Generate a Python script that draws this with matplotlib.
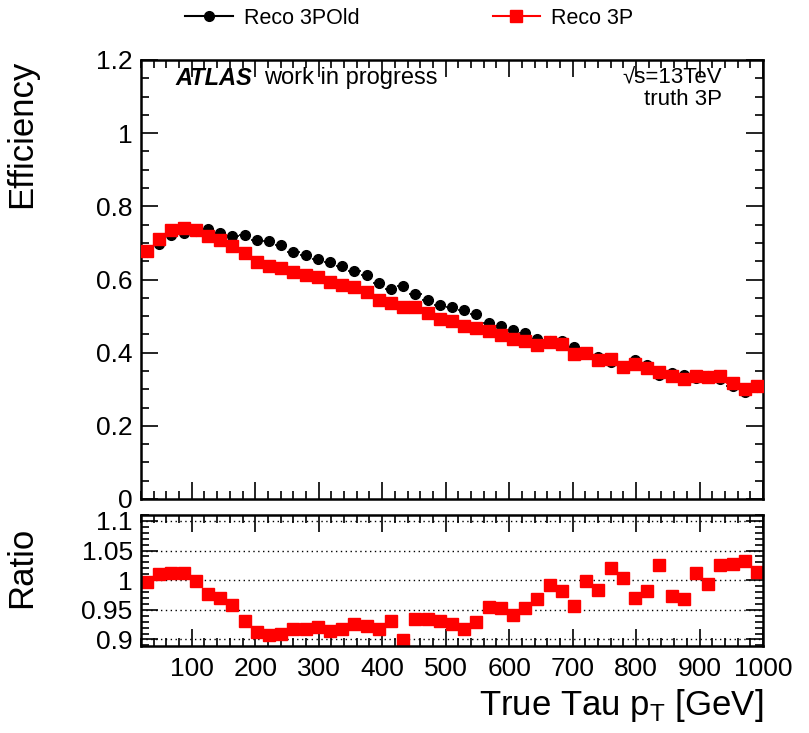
import matplotlib
matplotlib.use("Agg")
import matplotlib.pyplot as plt
from matplotlib.lines import Line2D
from matplotlib.ticker import MultipleLocator
import numpy as np

plt.rcParams['font.family'] = ['Liberation Sans', 'DejaVu Sans']

# 51 bins of true tau pT between 20 and 1000 GeV
edges = np.linspace(20, 1000, 52)
pt = 0.5 * (edges[1:] + edges[:-1])
half_width = 0.5 * (edges[1:] - edges[:-1])

eff_3p_old = [0.675, 0.696, 0.721, 0.726, 0.732, 0.737, 0.728, 0.720, 0.721, 0.709,
              0.704, 0.695, 0.676, 0.668, 0.657, 0.648, 0.637, 0.624, 0.613, 0.591,
              0.575, 0.582, 0.561, 0.545, 0.529, 0.525, 0.516, 0.505, 0.482, 0.472,
              0.463, 0.453, 0.436, 0.431, 0.432, 0.416, 0.400, 0.388, 0.375, 0.360,
              0.381, 0.365, 0.339, 0.344, 0.340, 0.331, 0.335, 0.328, 0.308, 0.293,
              0.306]
eff_3p = [0.679, 0.712, 0.735, 0.740, 0.735, 0.719, 0.707, 0.691, 0.673, 0.649,
          0.637, 0.631, 0.620, 0.612, 0.606, 0.593, 0.585, 0.580, 0.565, 0.543,
          0.536, 0.524, 0.524, 0.509, 0.492, 0.486, 0.472, 0.468, 0.458, 0.449,
          0.437, 0.431, 0.422, 0.428, 0.424, 0.397, 0.399, 0.381, 0.383, 0.361,
          0.370, 0.358, 0.348, 0.335, 0.329, 0.335, 0.333, 0.337, 0.317, 0.302,
          0.310]
ratio = [0.997, 1.011, 1.012, 1.012, 0.998, 0.976, 0.970, 0.958, 0.932, 0.913,
         0.908, 0.909, 0.917, 0.917, 0.921, 0.915, 0.917, 0.926, 0.923, 0.917,
         0.932, 0.899, 0.934, 0.934, 0.932, 0.926, 0.918, 0.930, 0.955, 0.953,
         0.942, 0.953, 0.968, 0.992, 0.982, 0.957, 0.998, 0.983, 1.021, 1.003,
         0.970, 0.981, 1.026, 0.974, 0.968, 1.012, 0.993, 1.026, 1.028, 1.032,
         1.013]

RED = '#ff0000'

W, H = 809, 733
fig = plt.figure(figsize=(W / 100, H / 100), dpi=100)

def px_axes(left, top, right, bottom):
    return fig.add_axes([left / W, 1 - bottom / H, (right - left) / W, (bottom - top) / H])

ax = px_axes(141, 60, 763, 499)
rax = px_axes(141, 515, 763, 646)

def root_style(a):
    a.tick_params(which='both', direction='in', top=True, right=True, width=1.2)
    a.tick_params(which='major', length=12)
    a.tick_params(which='minor', length=6)
    for s in a.spines.values():
        s.set_linewidth(1.8)

# efficiency panel
ax.errorbar(pt, eff_3p_old, xerr=half_width, fmt='o', color='black', ms=7,
            elinewidth=1.2, zorder=2)
ax.errorbar(pt, eff_3p, xerr=half_width, fmt='s', color=RED, ms=8,
            elinewidth=1.2, zorder=3)
ax.set_xlim(20, 1000)
ax.set_ylim(0, 1.2)
ax.xaxis.set_major_locator(MultipleLocator(100))
ax.xaxis.set_minor_locator(MultipleLocator(20))
ax.yaxis.set_minor_locator(MultipleLocator(0.05))
ax.set_yticks([0, 0.2, 0.4, 0.6, 0.8, 1.0, 1.2])
ax.set_yticklabels(['0', '0.2', '0.4', '0.6', '0.8', '1', '1.2'])
ax.tick_params(labelbottom=False, labelsize=19, pad=6)
root_style(ax)
ax.set_ylabel('Efficiency', fontsize=25, loc='top')
ax.yaxis.set_label_coords(-0.165, 1.0)

ax.text(0.055, 0.958, 'ATLAS', transform=ax.transAxes, fontsize=17,
        fontweight='bold', fontstyle='italic', va='center', ha='left')
ax.text(0.197, 0.958, 'work in progress', transform=ax.transAxes, fontsize=17,
        va='center', ha='left')
ax.text(0.934, 0.958, '√s=13TeV', transform=ax.transAxes, fontsize=16,
        va='center', ha='right')
ax.text(0.934, 0.910, 'truth 3P', transform=ax.transAxes, fontsize=16,
        va='center', ha='right')

handles = [Line2D([], [], color='black', marker='o', ms=7, lw=1.5),
           Line2D([], [], color=RED, marker='s', ms=8, lw=1.5)]
fig.legend(handles, ['Reco 3POld', 'Reco 3P'], loc='center left',
           bbox_to_anchor=(166 / W, 1 - 18 / H), ncol=2, frameon=False,
           fontsize=15.5, handlelength=2.2, columnspacing=6.2, handletextpad=0.5)

# ratio panel
rax.plot(pt, ratio, 's', color=RED, ms=8.5)
rax.set_xlim(20, 1000)
rax.set_ylim(0.889, 1.11)
rax.set_yticks([0.9, 0.95, 1.0, 1.05, 1.1])
rax.set_yticklabels(['0.9', '0.95', '1', '1.05', '1.1'])
rax.yaxis.set_minor_locator(MultipleLocator(0.01))
rax.xaxis.set_major_locator(MultipleLocator(100))
rax.xaxis.set_minor_locator(MultipleLocator(20))
rax.grid(axis='y', which='major', linestyle=(0, (1, 2.5)), color='black', linewidth=1.0)
rax.tick_params(labelsize=19, pad=6)
rax.tick_params(axis='x', pad=8)
root_style(rax)
rax.set_ylabel('Ratio', fontsize=25)
rax.yaxis.set_label_coords(-0.165, 0.6)
rax.set_xlabel('True Tau p$_{\\mathregular{T}}$ [GeV]', fontsize=25, loc='right')

fig.savefig('out.png', dpi=100)
